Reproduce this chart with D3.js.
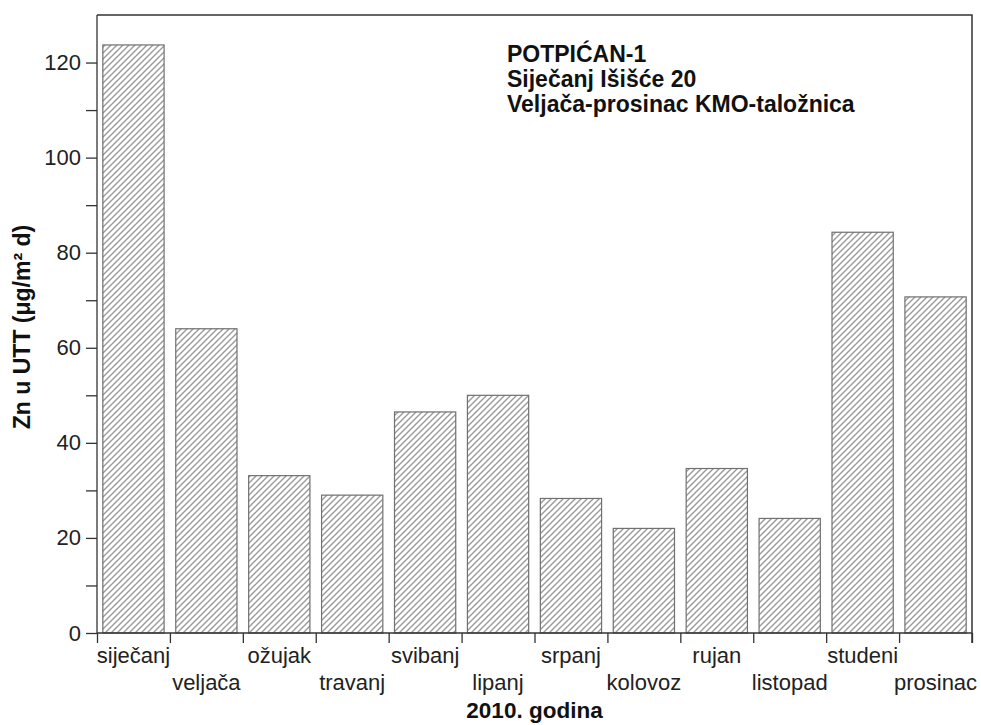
<!DOCTYPE html>
<html lang="hr">
<head>
    <meta charset="UTF-8">
    <title>Zn u UTT - Potpićan-1</title>
    <script src="https://d3js.org/d3.v7.min.js"></script>
    <style>
        body { margin: 0; background: #fff; }
        svg { font-family: Arial, "Liberation Sans", sans-serif; }
        .axis path, .axis line { stroke: #333; stroke-width: 1.3px; }
        .axis text { fill: #222; font-size: 22px; }
    </style>
</head>
<body>
<div id="chart"></div>
<script>
    // data
    var months = ["siječanj", "veljača", "ožujak", "travanj", "svibanj", "lipanj",
                  "srpanj", "kolovoz", "rujan", "listopad", "studeni", "prosinac"];
    var values = [123.7, 64, 33.1, 29, 46.5, 50, 28.3, 22, 34.6, 24.1, 84.3, 70.7];
    var yTicks = [0, 10, 20, 30, 40, 50, 60, 70, 80, 90, 100, 110, 120];
    var noteLines = ["POTPIĆAN-1", "Siječanj Išišće 20", "Veljača-prosinac KMO-taložnica"];

    var width = 981, height = 725;
    var mLeft = 97, mRight = 972, mTop = 15, mBottom = 633;

    var svg = d3.select("#chart").append("svg")
        .attr("width", width)
        .attr("height", height);

    // hatch pattern for the bars
    var defs = svg.append("defs");
    var pat = defs.append("pattern")
        .attr("id", "hatch")
        .attr("patternUnits", "userSpaceOnUse")
        .attr("width", 6)
        .attr("height", 6);
    pat.append("rect").attr("width", 6).attr("height", 6).attr("fill", "#fff");
    pat.append("path")
        .attr("d", "M-1,1 l2,-2 M0,6 l6,-6 M5,7 l2,-2")
        .attr("stroke", "#9a9a9a")
        .attr("stroke-width", 1.4);

    var x = d3.scaleBand()
        .domain(months)
        .range([mLeft, mRight])
        .paddingInner(0.16)
        .paddingOuter(0.08);

    // boundaries between months, used for the x ticks
    var xb = d3.scaleLinear().domain([0, months.length]).range([mLeft, mRight]);

    var y = d3.scaleLinear().domain([0, 130]).range([mBottom, mTop]);

    // bars
    svg.append("g").selectAll("rect")
        .data(values)
        .enter().append("rect")
        .attr("x", function(d, i) { return x(months[i]); })
        .attr("y", function(d) { return y(d); })
        .attr("width", x.bandwidth())
        .attr("height", function(d) { return y(0) - y(d); })
        .attr("fill", "url(#hatch)")
        .attr("stroke", "#707070")
        .attr("stroke-width", 1.2);

    // frame (top and right)
    svg.append("path")
        .attr("d", "M" + mLeft + "," + mTop + "H" + mRight + "V" + (mBottom + 10))
        .attr("fill", "none")
        .attr("stroke", "#333")
        .attr("stroke-width", 1.5);

    // y axis
    svg.append("g")
        .attr("class", "axis")
        .attr("transform", "translate(" + mLeft + ",0)")
        .call(d3.axisLeft(y)
            .tickValues(yTicks)
            .tickSize(11)
            .tickPadding(5)
            .tickFormat(function(d) { return d % 20 === 0 ? d : ""; }))
        .call(function(g) { g.select(".domain").attr("d", "M0," + mTop + "V" + mBottom); });

    // x axis: ticks at month boundaries
    svg.append("g")
        .attr("class", "axis")
        .attr("transform", "translate(0," + mBottom + ")")
        .call(d3.axisBottom(xb)
            .tickValues(d3.range(months.length + 1))
            .tickSize(10)
            .tickFormat(""))
        .call(function(g) { g.select(".domain").attr("d", "M" + mLeft + ",0H" + mRight); });

    // month labels, alternating in two rows
    svg.append("g").selectAll("text")
        .data(months)
        .enter().append("text")
        .attr("x", function(d) { return x(d) + x.bandwidth() / 2; })
        .attr("y", function(d, i) { return i % 2 === 0 ? 663 : 690; })
        .attr("text-anchor", "middle")
        .attr("font-size", 22)
        .attr("fill", "#222")
        .text(function(d) { return d; });

    // axis titles
    svg.append("text")
        .attr("x", (mLeft + mRight) / 2)
        .attr("y", 718)
        .attr("text-anchor", "middle")
        .attr("font-size", 22.5)
        .attr("font-weight", "bold")
        .attr("fill", "#111")
        .text("2010. godina");

    svg.append("text")
        .attr("transform", "translate(30,327) rotate(-90)")
        .attr("text-anchor", "middle")
        .attr("font-size", 23)
        .attr("font-weight", "bold")
        .attr("fill", "#111")
        .text("Zn u UTT (μg/m² d)");

    // note in the top right
    svg.append("g").selectAll("text")
        .data(noteLines)
        .enter().append("text")
        .attr("x", 507)
        .attr("y", function(d, i) { return 62 + i * 25; })
        .attr("font-size", 23)
        .attr("font-weight", "bold")
        .attr("fill", "#111")
        .text(function(d) { return d; });
</script>
</body>
</html>
